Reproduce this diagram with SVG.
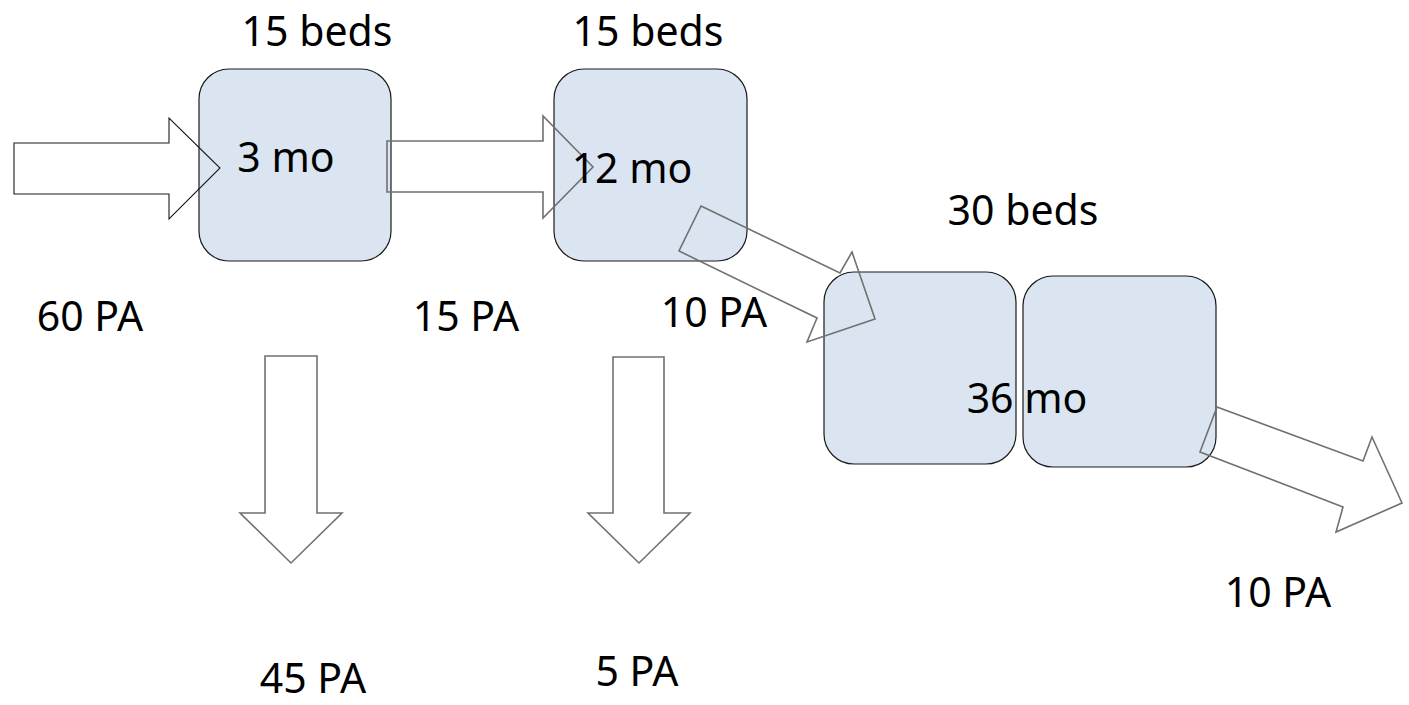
<svg xmlns="http://www.w3.org/2000/svg" width="1409" height="705" viewBox="0 0 1409 705">
  <style>
    .box { fill: #dbe5f1; stroke: #1a1a1a; stroke-width: 1.2; }
    .flow { fill: none; stroke: #707070; stroke-width: 1.6; stroke-linejoin: miter; }
    .flow-in { fill: none; stroke: #1a1a1a; stroke-width: 1.1; }
    .lbl { font-family: "Noto Sans", "Open Sans", sans-serif; font-size: 41px; fill: #000; text-anchor: middle; }
  </style>
  <rect width="1409" height="705" fill="#ffffff"/>

  <!-- stage boxes -->
  <g id="stage-3mo">
    <rect class="box" x="199" y="69" width="192" height="192" rx="30" ry="30"/>
  </g>
  <g id="stage-12mo">
    <rect class="box" x="554" y="69" width="193" height="192" rx="30" ry="30"/>
  </g>
  <g id="stage-36mo-a">
    <rect class="box" x="824" y="272" width="192" height="192" rx="30" ry="30"/>
  </g>
  <g id="stage-36mo-b">
    <rect class="box" x="1023" y="276" width="193" height="191" rx="30" ry="30"/>
  </g>

  <!-- block arrows -->
  <g id="connectors">
    <polygon class="flow-in" points="14,143 169,143 169,118 220,168 169,219 169,194 14,194"/>
    <polygon class="flow" points="387,141 543,141 543,116 593,167 543,218 543,192 387,192"/>
    <polygon class="flow" points="701,206 840,273 852,252 875,319 807,342 817,318 679,251"/>
    <polygon class="flow" points="1217,407 1363,461 1372,437 1402,503 1336,532 1343,507 1200,452"/>
    <polygon class="flow" points="265,356 317,356 317,513 342,513 291,563 240,513 265,513"/>
    <polygon class="flow" points="613,357 664,357 664,513 690,513 639,563 588,513 613,513"/>
  </g>

  <!-- labels -->
  <g id="labels">
    <text class="lbl" x="317" y="46">15 beds</text>
    <text class="lbl" x="648" y="46">15 beds</text>
    <text class="lbl" x="1023" y="225">30 beds</text>
    <text class="lbl" x="286" y="172">3 mo</text>
    <text class="lbl" x="632" y="183">12 mo</text>
    <text class="lbl" x="1027" y="413">36 mo</text>
    <text class="lbl" x="90" y="331">60 PA</text>
    <text class="lbl" x="466" y="331">15 PA</text>
    <text class="lbl" x="714" y="327">10 PA</text>
    <text class="lbl" x="313" y="693">45 PA</text>
    <text class="lbl" x="637" y="686">5 PA</text>
    <text class="lbl" x="1278" y="607">10 PA</text>
  </g>
</svg>
